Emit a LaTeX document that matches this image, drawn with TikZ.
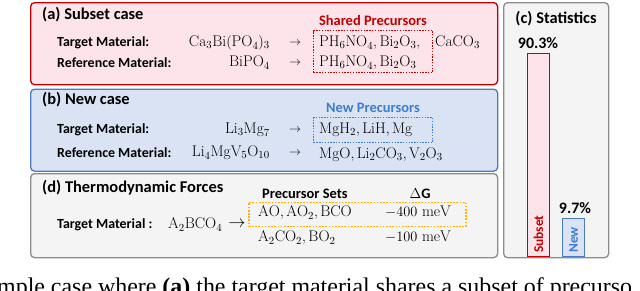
\documentclass[tikz,border=0pt]{standalone}
\usepackage{fontspec}
\newfontfamily\lab{Carlito}
\newfontfamily\capfont{Liberation Serif}
\usetikzlibrary{positioning}
\definecolor{redB}{HTML}{C00000}
\definecolor{redF}{HTML}{FCE4EA}
\definecolor{bluB}{HTML}{4A7BC4}
\definecolor{bluF}{HTML}{DAE3F3}
\definecolor{bluT}{HTML}{3B7DD0}
\definecolor{gryB}{HTML}{8C8C8C}
\definecolor{gryF}{HTML}{F4F4F4}
\definecolor{orgB}{HTML}{FFB000}
\begin{document}
\begin{tikzpicture}[x=1bp,y=-1bp,
  panel/.style={draw, rounded corners=4pt, line width=1.3pt, anchor=north west, inner sep=0pt},
  hdr/.style={font=\lab\bfseries\fontsize{16.5}{18}\selectfont, anchor=west, inner sep=0pt},
  lbl/.style={font=\lab\bfseries\fontsize{14}{16}\selectfont, anchor=west, inner sep=0pt},
  frm/.style={font=\fontsize{15.5}{18}\selectfont, inner sep=0pt, text height=11pt, text depth=3.5pt},
  arr/.style={font=\fontsize{12}{14}\selectfont, inner sep=0pt},
  dbox/.style={draw, line width=1.4pt, dash pattern=on 1.4pt off 1.4pt, anchor=north west, inner sep=0pt},
  bar/.style={draw, line width=1.2pt, anchor=north west, inner sep=0pt},
  pct/.style={font=\lab\bfseries\fontsize{16}{18}\selectfont, inner sep=0pt},
  ttl/.style={font=\lab\bfseries\fontsize{14.5}{16}\selectfont, inner sep=0pt}
]
\useasboundingbox (0,0) rectangle (640,290);
% panels
\node[panel, draw=redB, fill=redF, minimum width=467bp, minimum height=82bp] (pa) at (30,2) {};
\node[panel, draw=bluB, fill=bluF, minimum width=467bp, minimum height=82bp] (pb) at (30,88.5) {};
\node[panel, draw=gryB, fill=gryF, minimum width=467bp, minimum height=84bp] (pd) at (30,173) {};
\node[panel, draw=gryB, fill=gryF, minimum width=105bp, minimum height=255bp] (pc) at (503,2) {};

% (a)
\node[hdr] (ha) at (42,15) {(a) Subset case};
\node[lbl] (ta) at (57,43) {Target Material:};
\node[lbl] (ra) at (57,63) {Reference Material:};
\node[frm, anchor=east] (fa1) at (270,43) {$\mathrm{Ca_3Bi(PO_4)_3}$};
\node[frm, anchor=east] (fa2) at (270,63) {$\mathrm{BiPO_4}$};
\node[arr] (aa1) at (295,43) {$\rightarrow$};
\node[arr] (aa2) at (295,63) {$\rightarrow$};
\node[frm, anchor=west] (qa1) at (319,43) {$\mathrm{PH_6NO_4,Bi_2O_3}$,};
\node[frm, anchor=west] (qa3) at (435,43) {$\mathrm{CaCO_3}$};
\node[frm, anchor=west] (qa2) at (319,63) {$\mathrm{PH_6NO_4,Bi_2O_3}$};
\node[dbox, draw=redB, minimum width=119bp, minimum height=42bp] (da) at (313,30) {};
\node[ttl, text=redB] (sa) at (373,20) {Shared Precursors};

% (b)
\node[hdr] (hb) at (42,100) {(b) New case};
\node[lbl] (tb) at (57,130) {Target Material:};
\node[lbl] (rb) at (57,153) {Reference Material:};
\node[frm, anchor=east] (fb1) at (270,130) {$\mathrm{Li_3Mg_7}$};
\node[frm, anchor=east] (fb2) at (270,153) {$\mathrm{Li_4MgV_5O_{10}}$};
\node[arr] (ab1) at (295,130) {$\rightarrow$};
\node[arr] (ab2) at (295,153) {$\rightarrow$};
\node[frm, anchor=west] (qb1) at (319,130) {$\mathrm{MgH_2,LiH,Mg}$};
\node[frm, anchor=west] (qb2) at (319,155) {$\mathrm{MgO,Li_2CO_3,V_2O_3}$};
\node[dbox, draw=bluT, minimum width=119bp, minimum height=25bp] (db) at (313,117) {};
\node[ttl, text=bluT] (sb) at (373,108) {New Precursors};

% (d)
\node[hdr] (hd) at (42,188) {(d) Thermodynamic Forces};
\node[lbl] (td) at (57,225) {Target Material :};
\node[frm, anchor=west] (fd) at (168,225) {$\mathrm{A_2BCO_4}$};
\node[font=\fontsize{17}{18}\selectfont, inner sep=0pt] (ad) at (237,224) {$\rightarrow$};
\node[ttl, anchor=west] (ps) at (262,194) {Precursor Sets};
\node[ttl] (dg) at (420,194) {$\Delta$G};
\node[frm, anchor=west] (s1) at (258,213) {$\mathrm{AO,AO_2,BCO}$};
\node[frm] (e1) at (418,213) {$-400\ \mathrm{meV}$};
\node[frm, anchor=west] (s2) at (258,238) {$\mathrm{A_2CO_2,BO_2}$};
\node[frm] (e2) at (418,238) {$-100\ \mathrm{meV}$};
\node[dbox, draw=orgB, line width=1.7pt, dash pattern=on 1.7pt off 1.5pt, minimum width=217bp, minimum height=24bp] (dd) at (248,201.5) {};

% (c)
\node[hdr, anchor=center] (hc) at (556,19) {(c) Statistics};
\node[bar, draw=redB, fill=redF, minimum width=22bp, minimum height=203bp] (bs) at (527,53) {};
\node[bar, draw=bluB, fill=bluF, minimum width=22bp, minimum height=38bp] (bn) at (562,218) {};
\node[pct] (p1) at (538,43) {90.3\%};
\node[pct] (p2) at (575,208) {9.7\%};
\node[font=\lab\bfseries\fontsize{13.5}{15}\selectfont, text=redB, rotate=90, anchor=west, inner sep=0pt] (ls) at (538.5,253) {Subset};
\node[font=\lab\bfseries\fontsize{13.5}{15}\selectfont, text=bluT, rotate=90, anchor=west, inner sep=0pt] (ln) at (573.5,253) {New};

% caption fragment
\node[font=\capfont\fontsize{24}{26}\selectfont, anchor=base west, inner sep=0pt] (cap) at (-3,294) {mple case where \textbf{(a)} the target material shares a subset of precurso};
\end{tikzpicture}
\end{document}
